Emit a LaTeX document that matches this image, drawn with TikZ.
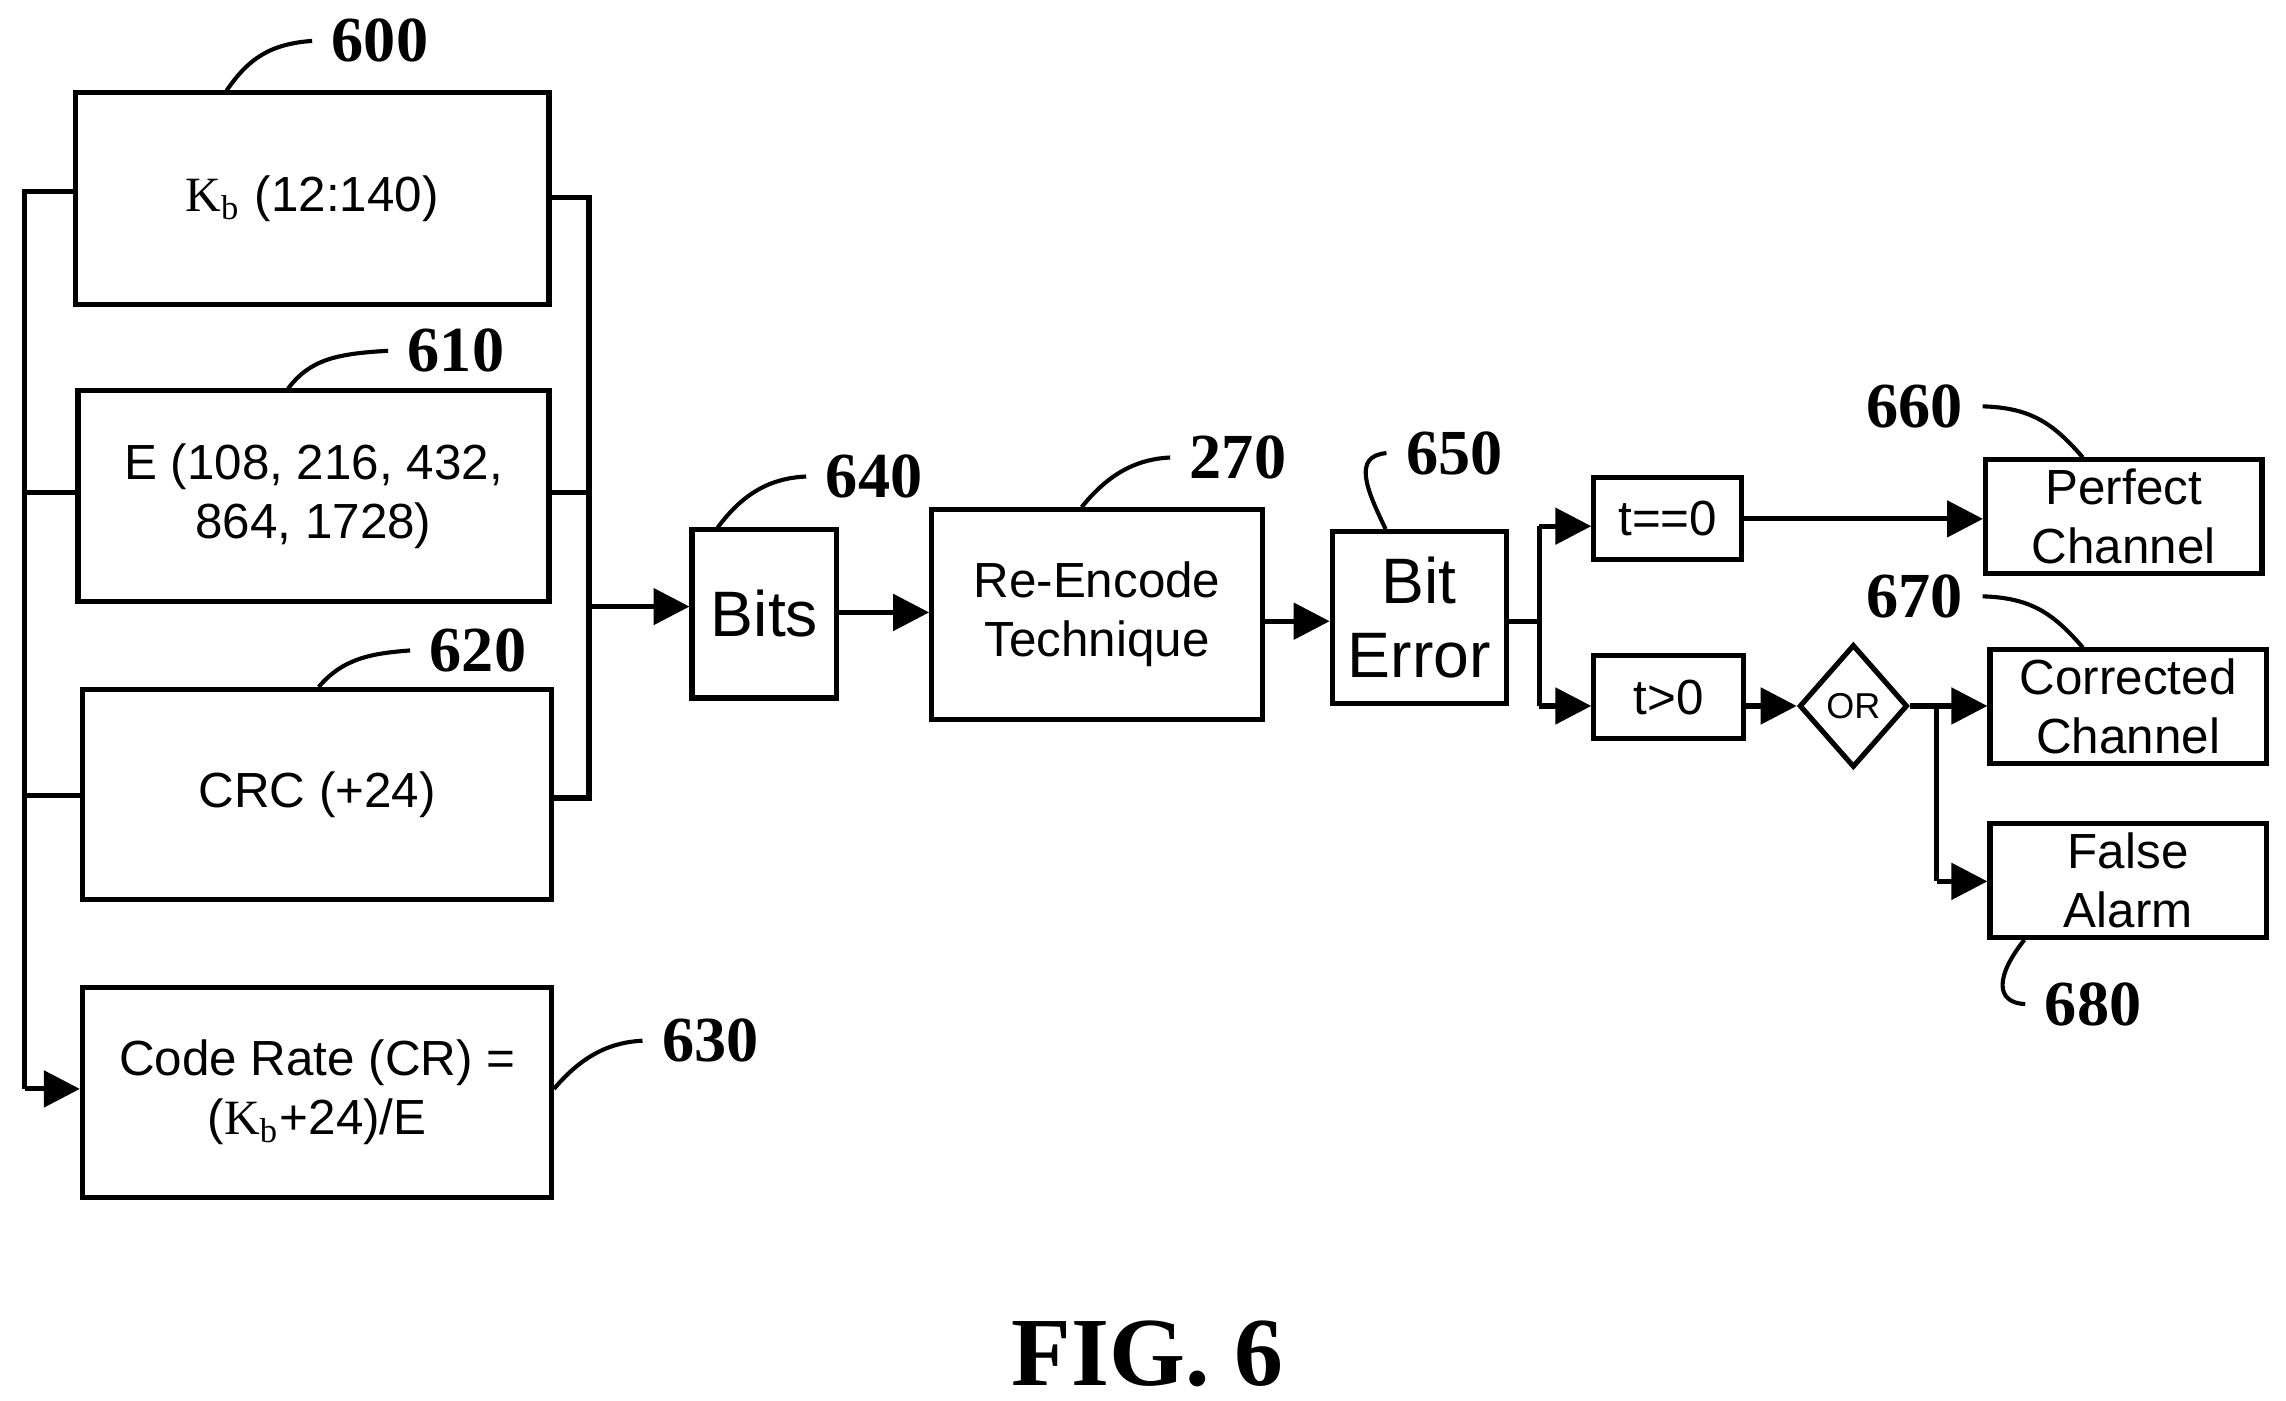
\documentclass[tikz,border=0pt]{standalone}
\usepackage{fontspec}
\setmainfont{Liberation Serif}
\setsansfont{Liberation Sans}
\usetikzlibrary{shapes.geometric,arrows.meta}
\begin{document}
\begin{tikzpicture}[x=0.01cm,y=-0.01cm,line width=1pt,
  box/.style={draw,rectangle,inner sep=0pt,align=center,font=\sffamily\fontsize{9.6}{11.5}\selectfont},
  lab/.style={font=\bfseries\fontsize{12.5}{14}\selectfont},
  arr/.style={-{Triangle[length=7pt,width=7pt]}},
  lead/.style={line width=0.8pt}]
\useasboundingbox (0,0) rectangle (1564,958);
\node[box,minimum width=3.24cm,minimum height=1.45cm] (k) at (213.5,136) {{\rmfamily K\textsubscript{b}} (12:140)};
\node[box,minimum width=3.22cm,minimum height=1.44cm] (e) at (214.5,339.5) {E (108, 216, 432,\\864, 1728)};
\node[box,minimum width=3.21cm,minimum height=1.44cm] (crc) at (217,543.5) {CRC (+24)};
\node[box,minimum width=3.21cm,minimum height=1.44cm] (cr) at (217,747.5) {Code Rate (CR) =\\({\rmfamily K\textsubscript{b}}+24)/E};
\node[box,minimum width=0.99cm,minimum height=1.15cm,font=\sffamily\fontsize{12.5}{15}\selectfont] (bits) at (523,420) {Bits};
\node[box,minimum width=2.26cm,minimum height=1.44cm] (re) at (750.5,420.5) {Re-Encode\\Technique};
\node[box,minimum width=1.19cm,minimum height=1.18cm,font=\sffamily\fontsize{12.5}{14.5}\selectfont] (be) at (971,422.5) {Bit\\Error};
\node[box,minimum width=1.01cm,minimum height=0.56cm] (t0) at (1141,354.5) {t==0};
\node[box,minimum width=1.02cm,minimum height=0.57cm] (tg) at (1141.5,477) {t>0};
\node[draw,diamond,minimum width=0.74cm,minimum height=0.84cm,inner sep=0pt,font=\sffamily\fontsize{7}{8}\selectfont] (or) at (1268,483) {OR};
\node[box,minimum width=1.89cm,minimum height=0.78cm] (pc) at (1453,353.5) {Perfect\\Channel};
\node[box,minimum width=1.89cm,minimum height=0.78cm] (cc) at (1456,483.5) {Corrected\\Channel};
\node[box,minimum width=1.89cm,minimum height=0.78cm] (fa) at (1456,602.5) {False\\Alarm};
% left bus
\coordinate (lt) at (17,131);
\draw (k.west|-lt) -- (lt) -- (17,745);
\draw (e.west|-0,337) -- (17,337);
\draw (crc.west|-0,544) -- (17,544);
\draw[arr] (17,745) -- (cr.west|-0,745);
% right bus
\draw (k.east|-0,135) -- (403,135) -- (403,546) -- (crc.east|-0,546);
\draw (e.east|-0,337) -- (403,337);
\draw[arr] (403,415) -- (bits.west|-0,415);
\draw[arr] (bits.east|-0,419) -- (re.west|-0,419);
\draw[arr] (re.east|-0,425) -- (be.west|-0,425);
\draw (be.east|-0,425) -- (1053,425);
\draw (1053,360) -- (1053,483);
\draw[arr] (1053,360) -- (t0.west|-0,360);
\draw[arr] (1053,483) -- (tg.west|-0,483);
\draw[arr] (t0.east|-0,355) -- (pc.west|-0,355);
\draw[arr] (tg.east|-0,483) -- (or.west);
\draw (or.east) -- (1325,483) -- (1325,603);
\draw[arr] (1325,483) -- (cc.west|-0,483);
\draw[arr] (1325,603) -- (fa.west|-0,603);
% labels
\node[lab] (l600) at (260,28) {600};
\draw[lead] (155,62) .. controls (170,40) and (185,30) .. (l600.west);
\node[lab] (l610) at (312,240) {610};
\draw[lead] (197,266) .. controls (212,246) and (230,242) .. (l610.west);
\node[lab] (l620) at (327,445) {620};
\draw[lead] (218,470) .. controls (235,450) and (255,447) .. (l620.west);
\node[lab] (l630) at (486,712) {630};
\draw[lead] (379,745) .. controls (400,720) and (420,713) .. (l630.west);
\node[lab] (l640) at (598,326) {640};
\draw[lead] (491,361) .. controls (510,335) and (530,327) .. (l640.west);
\node[lab] (l270) at (847,313) {270};
\draw[lead] (740,347) .. controls (760,322) and (780,314) .. (l270.west);
\node[lab] (l650) at (995,310) {650};
\draw[lead] (948,362) .. controls (935,335) and (925,312) .. (l650.west);
\node[lab] (l660) at (1310,278) {660};
\draw[lead] (1425,313) .. controls (1405,290) and (1390,279) .. (l660.east);
\node[lab] (l670) at (1310,408) {670};
\draw[lead] (1425,443) .. controls (1405,420) and (1390,409) .. (l670.east);
\node[lab] (l680) at (1432,687) {680};
\draw[lead] (1385,643) .. controls (1365,668) and (1365,686) .. (l680.west);
\node[font=\bfseries\fontsize{19}{22}\selectfont] (fig) at (785,926) {FIG. 6};
\end{tikzpicture}
\end{document}
